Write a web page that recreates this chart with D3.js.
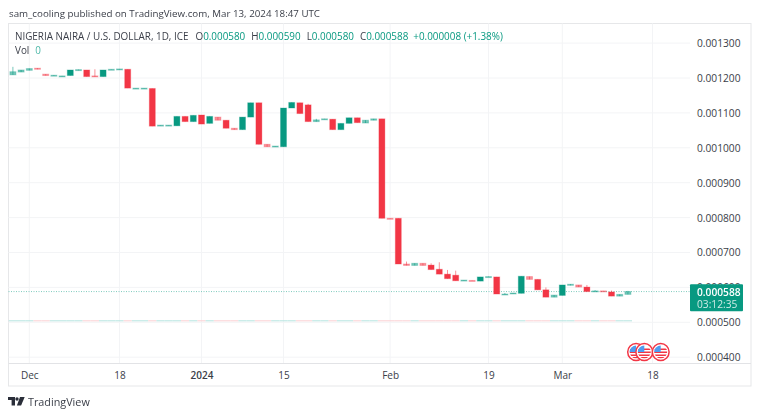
<!DOCTYPE html>
<html><head><meta charset="utf-8">
<script src="https://cdn.jsdelivr.net/npm/d3@7/dist/d3.min.js"></script>
<style>html,body{margin:0;padding:0;background:#fff}svg{display:block;filter:blur(.3px)}text{font-family:"Open Sans",sans-serif}</style>
</head><body><svg id="c" width="760" height="417"></svg>
<script>
// prices in millionths of a dollar, one entry per daily bar
const opens=[1209,1217,1222,1228,1211,1206,1205,1207,1222,1223,1206,1204,1224,1225,1225,1170,1170,1170,1064,1064,1063,1090,1075,1094,1070,1088,1079,1056,1052,1088,1129,1010,1004,1003,1114,1129,1123,1075,1082,1082,1052,1070,1086,1071,1079,1083,798,798,667,663,669,664,652,638,635,620,620,618,630,630,580,583,583,631,623,593,572,577,606,607,601,589,590,587,575,580];
const closes=[1218,1223,1227,1225,1207,1208,1206,1223,1224,1204,1204,1223,1225,1226,1171,1171,1171,1062,1065,1065,1090,1075,1093,1068,1090,1079,1056,1052,1088,1129,1010,1003,1005,1114,1130,1098,1075,1080,1083,1052,1070,1086,1072,1079,1083,798,797,667,663,669,663,651,638,625,619,621,619,630,631,581,581,584,632,623,593,572,578,607,609,601,588,590,589,575,580,588];
const highExtra={0:1232,10:1225,36:1126,37:1083,48:674,51:669,52:672,53:650,54:648,60:584,65:600,70:607,71:592,73:591,75:590};
const highs=opens.map((o,i)=>highExtra[i]||Math.max(o,closes[i]));
const lows=opens.map((o,i)=>Math.min(o,closes[i]));
const volumes=opens.map(()=>0);
const priceTicks=[400,500,600,700,800,900,1000,1100,1200,1300];
const timeBars=[2,13,23,33,46,58,67,78];
const timeLabels=["Dec","18","2024","15","Feb","19","Mar","18"];
const eventBars=[76,77,79];
const lastPrice=588;
const UP="#089981",DOWN="#f23645",TXT="#3a3e48";

const svg=d3.select("#c");
const x=d3.scaleLinear().domain([0,78]).range([12.9,652.5]);
const y=d3.scaleLinear().domain([500,1300]).range([322.3,43.1]);
const vol=d3.scaleLinear().domain([0,1]).range([320.3,280]);
const L=8.5,R=751,T=23.5,B=386,AX=363.5,PR=690;

// frame
svg.append("rect").attr("x",L).attr("y",T).attr("width",R-L).attr("height",B-T).attr("fill","#fff").attr("stroke","#e6e7e9");

// axes + gridlines
const gy=svg.append("g").attr("transform",`translate(${PR},0)`)
 .call(d3.axisRight(y).tickValues(priceTicks).tickSize(0).tickPadding(7).tickFormat(d=>(d/1e6).toFixed(6)));
gy.select(".domain").remove();
gy.selectAll("text").attr("font-size",10.2).attr("fill",TXT).style("font-family",'"Open Sans",sans-serif').attr("dy","0.34em");
const grid=svg.append("g");
grid.selectAll("line.h").data(priceTicks).join("line").attr("x1",L).attr("x2",PR).attr("y1",d=>y(d)).attr("y2",d=>y(d)).attr("stroke","#f3f4f6");
grid.selectAll("line.v").data(timeBars).join("line").attr("x1",d=>x(d)).attr("x2",d=>x(d)).attr("y1",T).attr("y2",AX).attr("stroke","#f3f4f6");
svg.append("line").attr("x1",L).attr("x2",R).attr("y1",AX).attr("y2",AX).attr("stroke","#e2e3e6");
const gx=svg.append("g").attr("transform",`translate(0,${AX})`)
 .call(d3.axisBottom(x).tickValues(timeBars).tickSize(0).tickPadding(8.5).tickFormat((d,i)=>timeLabels[i]));
gx.select(".domain").remove();
gx.selectAll("text").attr("font-size",10).attr("fill",TXT).attr("font-weight",(d,i)=>timeLabels[i]==="2024"?600:400).style("font-family",'"Open Sans",sans-serif');

// volume (all zero)
svg.append("g").selectAll("rect").data(volumes).join("rect")
 .attr("x",(d,i)=>x(i)-4.1).attr("width",8.2).attr("y",d=>vol(d)).attr("height",1)
 .attr("fill",(d,i)=>closes[i]>=opens[i]?"#b5e4e0":"#fbd0d3");

// last price line
svg.append("line").attr("x1",L).attr("x2",PR).attr("y1",y(lastPrice)).attr("y2",y(lastPrice))
 .attr("stroke","#7fcabd").attr("stroke-dasharray","1 1.5");

// candles
const idx=d3.range(opens.length);
const col=i=>closes[i]>=opens[i]?UP:DOWN;
const g=svg.append("g");
g.selectAll("line").data(idx).join("line").attr("x1",i=>x(i)).attr("x2",i=>x(i))
 .attr("y1",i=>y(highs[i])).attr("y2",i=>y(lows[i])).attr("stroke",col).attr("stroke-opacity",.55);
g.selectAll("rect").data(idx).join("rect")
 .attr("x",i=>x(i)-3).attr("width",6)
 .attr("y",i=>y(Math.max(opens[i],closes[i])))
 .attr("height",i=>Math.max(1,Math.abs(y(opens[i])-y(closes[i]))))
 .attr("fill",col)
 .attr("fill-opacity",i=>Math.abs(y(opens[i])-y(closes[i]))<3.2?.55:1)
 .attr("stroke",col).attr("stroke-opacity",.3).attr("stroke-width",1);

// price label
const by=y(lastPrice)-7.3;
svg.append("rect").attr("x",PR).attr("y",by).attr("width",53).attr("height",27).attr("fill",UP).attr("rx",1);
svg.append("text").attr("x",697).attr("y",by+11.5).attr("font-size",10.2).attr("font-weight",600).attr("fill","#fff").text((lastPrice/1e6).toFixed(6));
svg.append("text").attr("x",697).attr("y",by+23.5).attr("font-size",10.2).attr("fill","#fff").attr("fill-opacity",.8).text("03:12:35");

// events
const ev=svg.append("g").selectAll("g").data(eventBars).join("g").attr("transform",d=>`translate(${x(d)},352)`);
ev.append("circle").attr("r",8.4).attr("fill","#fff").attr("stroke","#f23645").attr("stroke-width",1.5);
ev.append("clipPath").attr("id",(d,i)=>"e"+i).append("circle").attr("r",6.5);
const fl=ev.append("g").attr("clip-path",(d,i)=>`url(#e${i})`);
[-3.5,-0.5,2.5,5].forEach(o=>fl.append("rect").attr("x",-7).attr("y",o).attr("width",14).attr("height",1.5).attr("fill","#f23645"));
fl.append("rect").attr("x",-7).attr("y",-7).attr("width",7).attr("height",7).attr("fill","#4f9cf0");

// header
svg.append("text").attr("x",9).attr("y",17).attr("font-size",9.75).attr("fill","#3a3e48").text("sam_cooling published on TradingView.com, Mar 13, 2024 18:47 UTC");
const hdr=svg.append("text").attr("x",15).attr("y",40).attr("font-size",9.9).attr("fill","#3a3e48");
hdr.append("tspan").text("NIGERIA NAIRA / U.S. DOLLAR, 1D, ICE");
[["O",opens[75]],["H",highs[75]],["L",lows[75]],["C",closes[75]]].forEach(([k,v],i)=>{
  hdr.append("tspan").attr("dx",i?6:7).text(k);
  hdr.append("tspan").attr("fill",UP).text((v/1e6).toFixed(6));
});
hdr.append("tspan").attr("dx",5).attr("fill",UP).text("+0.000008 (+1.38%)");
const v=svg.append("text").attr("x",15).attr("y",54).attr("font-size",9.9).attr("fill","#3a3e48");
v.append("tspan").text("Vol");
v.append("tspan").attr("dx",6).attr("fill","#4db8a8").text(volumes[75]);

// logo
const lg=svg.append("g").attr("fill","#2a2e39");
lg.append("path").attr("d","M8 397h7v8.5h-3.4v-5.5H8z");
lg.append("circle").attr("cx",17).attr("cy",399).attr("r",1.7);
lg.append("path").attr("d","M20 397h4.7l-3.6 8.5h-4.2z");
svg.append("text").attr("x",28).attr("y",406).attr("font-size",10.8).attr("fill","#3a3e48").text("TradingView");
</script></body></html>
